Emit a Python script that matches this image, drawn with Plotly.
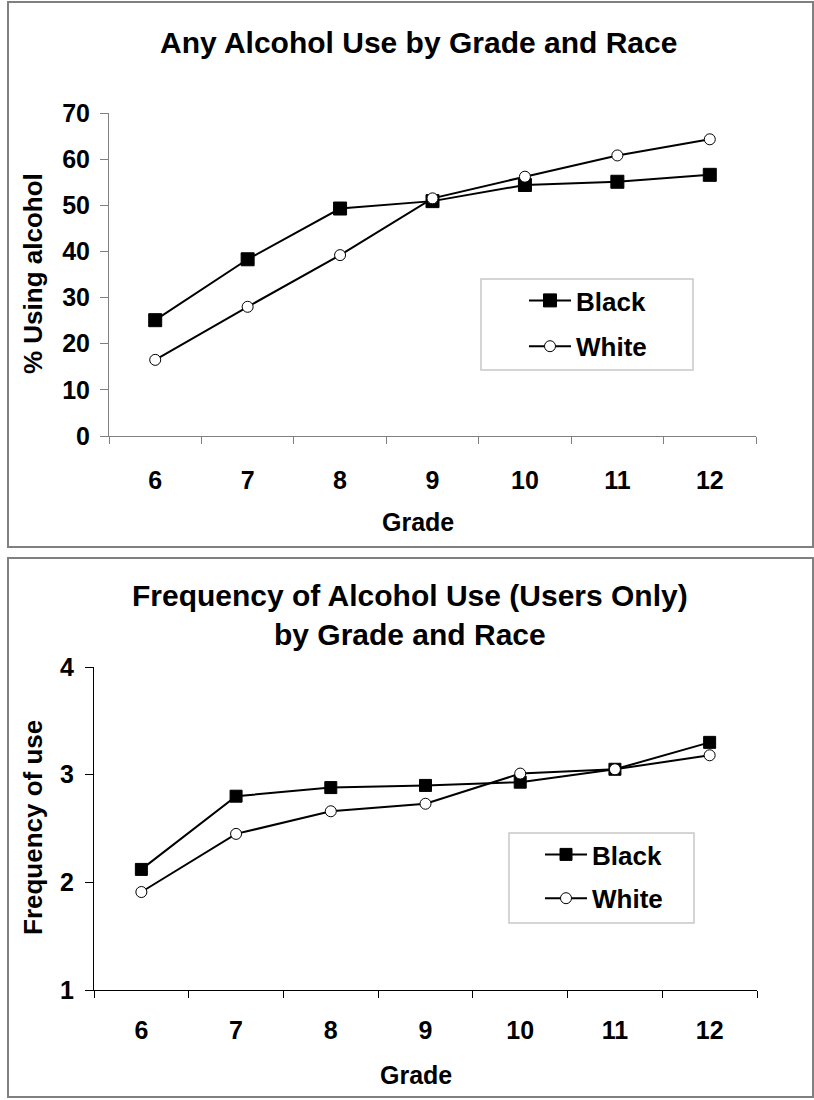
import plotly.graph_objects as go

# Survey results: alcohol use by school grade and race
grades = ["6", "7", "8", "9", "10", "11", "12"]
any_use_black = [25.1, 38.3, 49.3, 50.9, 54.4, 55.1, 56.6]
any_use_white = [16.5, 28.0, 39.2, 51.5, 56.2, 60.8, 64.3]
freq_black = [2.12, 2.80, 2.88, 2.90, 2.93, 3.05, 3.30]
freq_white = [1.91, 2.45, 2.66, 2.73, 3.01, 3.05, 3.18]

W, H = 814, 1100
FONT = "Liberation Sans, Arial, sans-serif"


def px(x):
    return x / W


def py(y):
    return 1 - y / H


fig = go.Figure()

black_line = dict(color="black", width=2)
sq = dict(symbol="square", size=13, color="black", line=dict(color="black", width=1))
circ = dict(symbol="circle", size=11, color="white", line=dict(color="black", width=1))

fig.add_trace(go.Scatter(x=grades, y=any_use_black, name="Black", mode="lines+markers",
                         line=black_line, marker=sq, xaxis="x", yaxis="y",
                         legend="legend", legendgroup="b1"))
fig.add_trace(go.Scatter(x=grades, y=any_use_white, name="White", mode="lines+markers",
                         line=black_line, marker=circ, xaxis="x", yaxis="y",
                         legend="legend", legendgroup="w1"))
fig.add_trace(go.Scatter(x=grades, y=freq_black, name="Black", mode="lines+markers",
                         line=black_line, marker=dict(sq, size=12), xaxis="x2", yaxis="y2",
                         legend="legend2", legendgroup="b2"))
fig.add_trace(go.Scatter(x=grades, y=freq_white, name="White", mode="lines+markers",
                         line=black_line, marker=dict(circ, size=11), xaxis="x2", yaxis="y2",
                         legend="legend2", legendgroup="w2"))

tick_font = dict(family=FONT, size=25, color="black", weight="bold")


def xaxis_style(domain, anchor, color, standoff):
    return dict(domain=domain, anchor=anchor, type="category", range=[-0.5, 6.5],
                tickson="boundaries", ticks="outside", ticklen=7, tickcolor=color,
                showline=True, linecolor=color, linewidth=1, showgrid=False,
                zeroline=False, tickfont=tick_font, ticklabelstandoff=standoff,
                automargin=False, fixedrange=True)


def yaxis_style(domain, anchor, color, rng, dtick, standoff):
    return dict(domain=domain, anchor=anchor, range=rng, dtick=dtick,
                ticks="outside", ticklen=8, tickcolor=color, showline=True,
                linecolor=color, linewidth=1, showgrid=False, zeroline=False,
                tickfont=tick_font, ticklabelstandoff=standoff,
                automargin=False, fixedrange=True)


legend_style = dict(font=dict(family=FONT, size=26, color="black", weight="bold"),
                    bgcolor="rgba(0,0,0,0)", borderwidth=0, traceorder="grouped",
                    itemwidth=42, xanchor="left", yanchor="top")

panel_line = dict(color="#808080", width=2)
legend_box = dict(color="#c8c8c8", width=1.5)

fig.update_layout(
    width=W, height=H,
    margin=dict(l=0, r=0, t=0, b=0, pad=0, autoexpand=False),
    paper_bgcolor="white", plot_bgcolor="white",
    showlegend=True,
    xaxis=xaxis_style([px(109), px(756)], "y", "#808080", 22),
    yaxis=yaxis_style([py(436), py(113)], "x", "#808080", [0, 70], 10, 5),
    xaxis2=xaxis_style([px(94), px(757)], "y2", "black", 18),
    yaxis2=yaxis_style([py(990), py(667)], "x2", "black", [1, 4], 1, 6),
    legend=dict(legend_style, x=px(524), y=py(277), tracegroupgap=9),
    legend2=dict(legend_style, x=px(540), y=py(831), tracegroupgap=7),
    shapes=[
        dict(type="rect", xref="paper", yref="paper", x0=px(8), x1=px(813),
             y0=py(547), y1=py(2), line=panel_line, layer="below"),
        dict(type="rect", xref="paper", yref="paper", x0=px(8), x1=px(813),
             y0=py(1097), y1=py(558), line=panel_line, layer="below"),
        dict(type="rect", xref="paper", yref="paper", x0=px(481), x1=px(693),
             y0=py(370), y1=py(279), line=legend_box, layer="below"),
        dict(type="rect", xref="paper", yref="paper", x0=px(509), x1=px(694),
             y0=py(923), y1=py(833), line=legend_box, layer="below"),
    ],
)

title_font = dict(family=FONT, size=30, color="black", weight="bold")
axis_title_font = dict(family=FONT, size=26, color="black", weight="bold")
grade_font = dict(family=FONT, size=25, color="black", weight="bold")

annotations = [
    dict(text="Any Alcohol Use by Grade and Race", x=px(418), y=py(42), font=title_font),
    dict(text="Frequency of Alcohol Use (Users Only)<br>by Grade and Race",
         x=px(410), y=py(615), font=title_font),
    dict(text="% Using alcohol", x=px(33), y=py(274), textangle=-90, font=axis_title_font),
    dict(text="Frequency of use", x=px(33), y=py(828), textangle=-90, font=axis_title_font),
    dict(text="Grade", x=px(418), y=py(522), font=grade_font),
    dict(text="Grade", x=px(416), y=py(1075), font=grade_font),
]
for a in annotations:
    a.update(xref="paper", yref="paper", showarrow=False, xanchor="center", yanchor="middle")
fig.update_layout(annotations=annotations)

fig.write_html("out.html")
